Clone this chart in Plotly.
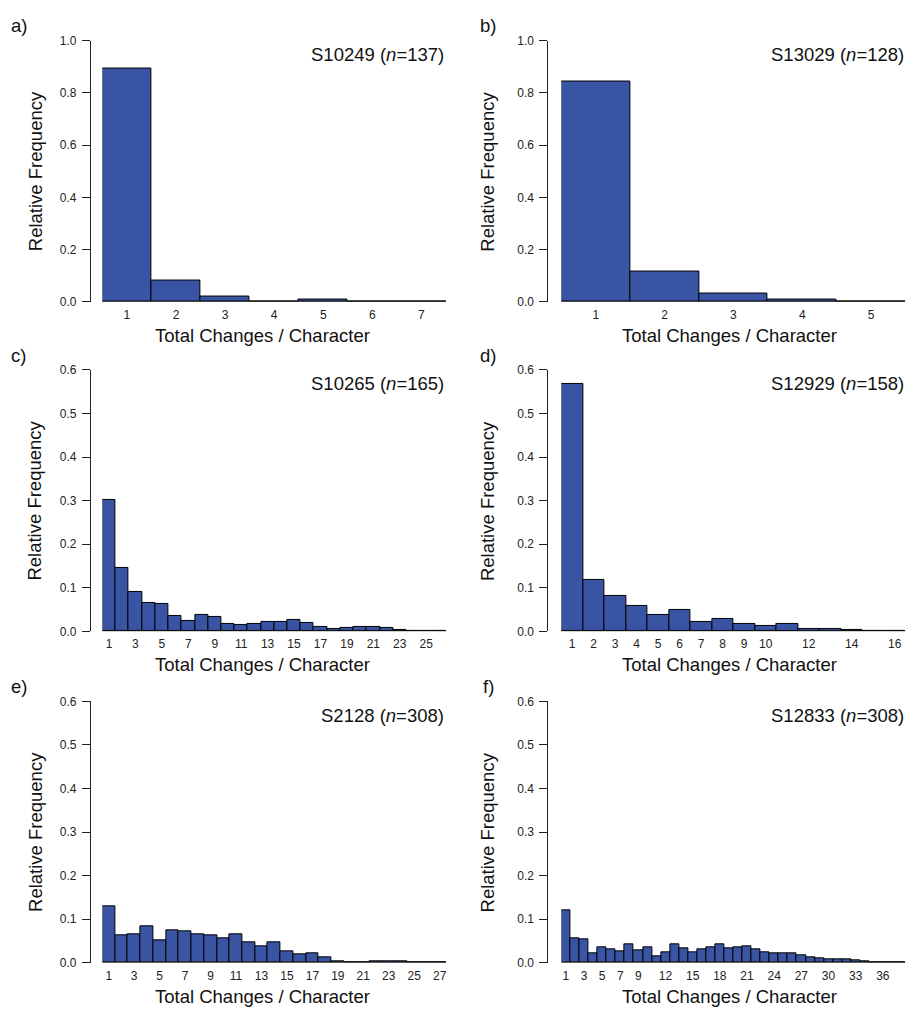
import plotly.graph_objects as go

W, H = 910, 1020

# ---------------- data ----------------
a_vals = [0.891, 0.080, 0.022, 0.0, 0.0073, 0.0, 0.0]
b_vals = [0.844, 0.117, 0.031, 0.0078, 0.0]
c_vals = [0.301, 0.146, 0.0915, 0.0657, 0.0634, 0.0349, 0.0235, 0.0385, 0.0332,
          0.0166, 0.0151, 0.0174, 0.0204, 0.0219, 0.0264, 0.0196, 0.009, 0.0053,
          0.0068, 0.009, 0.0098, 0.0068, 0.003, 0.0015, 0.001, 0.0]
d_vals = [0.5675, 0.1177, 0.0815, 0.0581, 0.0377, 0.0483, 0.0219, 0.0294, 0.0166,
          0.0121, 0.0158, 0.0045, 0.0053, 0.0023, 0.0015, 0.0]
e_vals = [0.1298, 0.0634, 0.0642, 0.0838, 0.0513, 0.0747, 0.0709, 0.0642, 0.0619,
          0.0566, 0.0649, 0.046, 0.0385, 0.0475, 0.0264, 0.0189, 0.0226, 0.0113,
          0.0038, 0.0015, 0.0015, 0.0023, 0.003, 0.0023, 0.0015, 0.0008, 0.0]
f_vals = [0.12, 0.0566, 0.0536, 0.0226, 0.0347, 0.0317, 0.0272, 0.043, 0.0294,
          0.0362, 0.0151, 0.0234, 0.0415, 0.034, 0.0234, 0.0309, 0.0362, 0.043,
          0.0325, 0.0362, 0.0377, 0.0317, 0.0249, 0.0219, 0.0219, 0.0226, 0.0158,
          0.0113, 0.0098, 0.0083, 0.0083, 0.0083, 0.0053, 0.0023, 0.0015, 0.0015,
          0.0008, 0.0]

a_ticks = [1, 2, 3, 4, 5, 6, 7]
b_ticks = [1, 2, 3, 4, 5]
c_ticks = [1, 3, 5, 7, 9, 11, 13, 15, 17, 19, 21, 23, 25]
d_ticks = [1, 2, 3, 4, 5, 6, 7, 8, 9, 10, 12, 14, 16]
e_ticks = [1, 3, 5, 7, 9, 11, 13, 15, 17, 19, 21, 23, 25, 27]
f_ticks = [1, 3, 5, 7, 9, 12, 15, 18, 21, 24, 27, 30, 33, 36]

letters = ["a)", "b)", "c)", "d)", "e)", "f)"]
labels = ["S10249", "S13029", "S10265", "S12929", "S2128", "S12833"]
ns = [137, 128, 165, 158, 308, 308]
ymaxes = [1.0, 1.0, 0.6, 0.6, 0.6, 0.6]
ydticks = [0.2, 0.2, 0.1, 0.1, 0.1, 0.1]

panels_vals = [a_vals, b_vals, c_vals, d_vals, e_vals, f_vals]
panels_ticks = [a_ticks, b_ticks, c_ticks, d_ticks, e_ticks, f_ticks]

# ---------------- layout (pixels) ----------------
col_axis_x = [90, 548]        # y-axis line x
col_bar_l = [102.5, 562]      # bars left
col_bar_r = [446.5, 906.5]    # bars right
col_ytitle_x = [35, 488]
col_xtitle_x = [263, 730]
col_letter_x = [19, 489]
row_top = [34, 368, 704]
row_bot = [299, 633, 969]

FONT = "Liberation Sans, Arial, Helvetica, sans-serif"
BAR = "#3A54A4"


def px(x):
    return x / W


def py(y):
    return 1 - y / H


fig = go.Figure()
annotations = []
shapes = []

for i in range(6):
    r, c = divmod(i, 2)
    vals = panels_vals[i]
    nb = len(vals)
    xs = list(range(1, nb + 1))
    k = i + 1
    xa = "x" if k == 1 else f"x{k}"
    ya = "y" if k == 1 else f"y{k}"
    fig.add_trace(go.Bar(
        x=xs, y=vals, width=1.0, xaxis=xa, yaxis=ya,
        marker=dict(color=BAR, line=dict(color="black", width=1)),
        showlegend=False, hoverinfo="x+y",
    ))
    ymax = ymaxes[i]
    dt = ydticks[i]
    nt = int(round(ymax / dt))
    tv = [round(j * dt, 2) for j in range(nt + 1)]
    tt = [f"{v:.1f}" for v in tv]
    xkey = "xaxis" if k == 1 else f"xaxis{k}"
    ykey = "yaxis" if k == 1 else f"yaxis{k}"
    fig.layout[xkey] = dict(
        domain=[px(col_bar_l[c]), px(col_bar_r[c])],
        range=[0.5, nb + 0.5], anchor=ya,
        showline=False, showgrid=False, zeroline=False, ticks="",
        tickmode="array", tickvals=panels_ticks[i],
        ticktext=[str(t) for t in panels_ticks[i]],
        tickfont=dict(family=FONT, size=12, color="#222"),
        ticklabelstandoff=4, fixedrange=True,
    )
    fig.layout[ykey] = dict(
        domain=[py(row_bot[r]), py(row_top[r])],
        range=[0, ymax], anchor="free", position=px(col_axis_x[c]),
        showline=True, linecolor="#222", linewidth=1,
        ticks="outside", ticklen=8, tickcolor="#222", tickwidth=1,
        showgrid=False, zeroline=False,
        tickmode="array", tickvals=tv, ticktext=tt,
        tickfont=dict(family=FONT, size=12, color="#222"),
        ticklabelstandoff=3, fixedrange=True,
    )
    # baseline under zero-height bins
    shapes.append(dict(type="line", xref=xa, yref=ya, x0=0.5, x1=nb + 0.5,
                       y0=0, y1=0, line=dict(color="#222", width=1), layer="above"))
    # panel title
    annotations.append(dict(
        text=f"{labels[i]} (<i>n</i>={ns[i]})", xref="paper", yref="paper",
        x=px(col_bar_r[c]), y=py(row_top[r] + 14), xanchor="right", yanchor="middle",
        showarrow=False, font=dict(family=FONT, size=18.5, color="#111")))
    # letter
    annotations.append(dict(
        text=letters[i], xref="paper", yref="paper",
        x=px(col_letter_x[c]), y=py(row_top[r] - 15), xanchor="center", yanchor="middle",
        showarrow=False, font=dict(family=FONT, size=18.5, color="#111")))
    # x title
    annotations.append(dict(
        text="Total Changes / Character", xref="paper", yref="paper",
        x=px(col_xtitle_x[c]), y=py(row_bot[r] + 34), xanchor="center", yanchor="middle",
        showarrow=False, font=dict(family=FONT, size=18.5, color="#111")))
    # y title
    annotations.append(dict(
        text="Relative Frequency", xref="paper", yref="paper", textangle=-90,
        x=px(col_ytitle_x[c]), y=py((row_top[r] + row_bot[r]) / 2), xanchor="center",
        yanchor="middle", showarrow=False, font=dict(family=FONT, size=18.5, color="#111")))

fig.update_layout(
    width=W, height=H, margin=dict(l=0, r=0, t=0, b=0),
    paper_bgcolor="white", plot_bgcolor="white",
    bargap=0, annotations=annotations, shapes=shapes,
)

fig.write_html("out.html")
